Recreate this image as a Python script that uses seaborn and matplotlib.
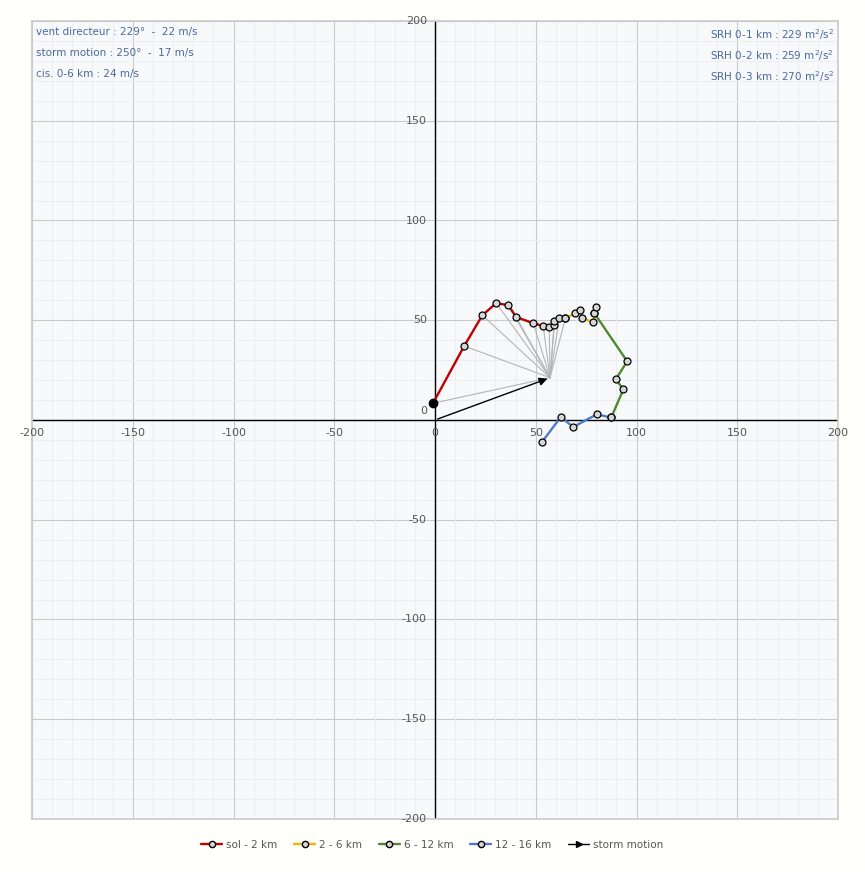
import numpy as np
import matplotlib.pyplot as plt
import seaborn as sns
from matplotlib.lines import Line2D

# hodograph segments (u, v)
red_u = [-1, 14.5, 23.5, 30.4, 36.4, 40.3, 48.8, 53.7, 56.7, 59.2, 59.2, 61.7, 64.7]
red_v = [8.4, 37.1, 52.5, 58.6, 57.5, 51.6, 48.5, 47.1, 46.6, 47.4, 49.5, 51.0, 51.0]
yel_u = [64.7, 69.6, 72.1, 73.1, 78.6, 79.1, 80.1]
yel_v = [51.0, 53.5, 55.1, 51.0, 49.0, 53.5, 56.8]
grn_u = [79.1, 95.4, 89.7, 93.5, 87.5]
grn_v = [53.5, 29.4, 20.4, 15.4, 1.3]
blu_u = [87.5, 80.2, 68.6, 62.4, 53.0]
blu_v = [1.3, 2.8, -3.5, 1.5, -11.2]
storm = (57.1, 21.2)

left_txt = ["vent directeur : 229°  -  22 m/s", "storm motion : 250°  -  17 m/s", "cis. 0-6 km : 24 m/s"]
right_txt = ["SRH 0-1 km : 229 m$^2$/s$^2$", "SRH 0-2 km : 259 m$^2$/s$^2$", "SRH 0-3 km : 270 m$^2$/s$^2$"]
ticks = [-200, -150, -100, -50, 0, 50, 100, 150, 200]

sns.set_theme(style="white")
plt.rcParams['font.family'] = ['DejaVu Sans']
fig = plt.figure(figsize=(8.65, 8.72), dpi=100, facecolor="#fffffb")
ax = fig.add_axes([32/865, 1-819/872, 806/865, 798/872])
ax.set_facecolor("#f8f9fb")
ax.set_xlim(-200, 200)
ax.set_ylim(-200, 200)

for g in np.arange(-200, 201, 10):
    major = g % 50 == 0
    c = "#cacaca" if major else "#eceef2"
    ax.axvline(g, color=c, lw=0.8, zorder=0)
    ax.axhline(g, color=c, lw=0.8, zorder=0)
ax.axvline(0, color="black", lw=1, zorder=1)
ax.axhline(0, color="black", lw=1, zorder=1)
for s in ax.spines.values():
    s.set_color("#cccccc")
ax.set_xticks([]); ax.set_yticks([])

for t in ticks:
    ax.text(t, -4, str(t), ha="center", va="top", fontsize=8, color="#555555")
    if t != 0:
        ax.text(-4, t, str(t), ha="right", va="center", fontsize=8, color="#555555")
ax.text(-4, 2, "0", ha="right", va="bottom", fontsize=8, color="#555555")

# gray lines from storm motion to low-level points
for u, v in zip(red_u, red_v):
    ax.plot([storm[0], u], [storm[1], v], color="#b5b5b5", lw=0.8, zorder=2)
ax.annotate("", xy=storm, xytext=(0, 0),
            arrowprops=dict(arrowstyle="-|>", color="black", lw=1), zorder=3)

mk = dict(marker="o", ms=5, mfc="#d6d6d6", mec="black", mew=0.9, lw=1.7, zorder=4)
ax.plot(blu_u, blu_v, color="#4a7cc9", **mk)
ax.plot(grn_u, grn_v, color="#4d8a2e", **mk)
ax.plot(yel_u, yel_v, color="#f2b600", **mk)
ax.plot(red_u, red_v, color="#c00000", **mk)
ax.plot(red_u[0], red_v[0], "o", color="black", ms=6, zorder=5)

tc = "#4a6a9e"
for i, s in enumerate(left_txt):
    ax.text(0.005, 0.992 - i*0.026, s, transform=ax.transAxes, ha="left", va="top", fontsize=7.5, color=tc)
for i, s in enumerate(right_txt):
    ax.text(0.995, 0.992 - i*0.026, s, transform=ax.transAxes, ha="right", va="top", fontsize=7.5, color=tc)

handles = [Line2D([], [], color=c, marker="o", mfc="#d6d6d6", mec="black", ms=4.5, lw=1.7)
           for c in ["#c00000", "#f2b600", "#4d8a2e", "#4a7cc9"]]
handles.append(Line2D([], [], color="black", marker=">", ms=4, lw=1, markevery=[1]))
labels = ["sol - 2 km", "2 - 6 km", "6 - 12 km", "12 - 16 km", "storm motion"]
fig.legend(handles, labels, loc="center", bbox_to_anchor=(0.5, 1-845/872), ncol=5,
           frameon=False, fontsize=7.5, handlelength=2.0, columnspacing=1.6,
           handletextpad=0.4, labelcolor="#555555")

fig.savefig("out.png", dpi=100, facecolor=fig.get_facecolor())
